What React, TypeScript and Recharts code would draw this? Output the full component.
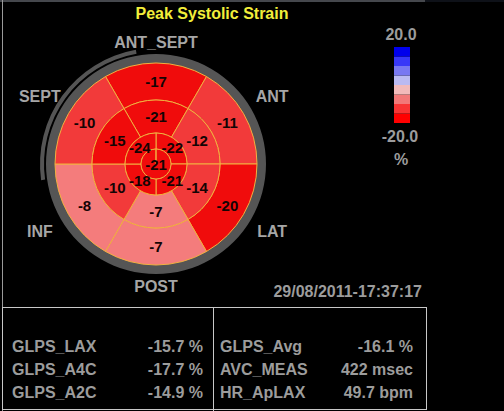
import React from 'react';
import { PieChart, Pie, Cell, BarChart, Bar, XAxis, YAxis } from 'recharts';

// 17-segment bullseye, basal/mid rings clockwise from the top
const regions = ['ANT_SEPT', 'ANT', 'LAT', 'POST', 'INF', 'SEPT'];
const basalStrain = [-17, -11, -20, -7, -8, -10];
const midStrain = [-21, -12, -14, -7, -10, -15];
const apicalRegions = ['ANT', 'LAT', 'INF', 'SEPT'];
const apicalStrain = [-22, -21, -18, -24];
const apexStrain = [-21];

// colour scale, bottom band first
const legendMin = -20.0;
const legendMax = 20.0;
const legendBandWidths = [5, 5, 5, 5, 5, 5, 5, 5];
const legendColors = ['#ff0000', '#f83434', '#f27878', '#f2baba', '#babaf2', '#7878f2', '#3838f8', '#0000ec'];

const glpsLabels = ['GLPS_LAX', 'GLPS_A4C', 'GLPS_A2C'];
const glpsValues = ['-15.7 %', '-17.7 %', '-14.9 %'];
const summaryLabels = ['GLPS_Avg', 'AVC_MEAS', 'HR_ApLAX'];
const summaryValues = ['-16.1 %', '422 msec', '49.7 bpm'];

const FONT = '"Liberation Sans", Arial, sans-serif';
const GREY = '#9c9c9c';
const CX = 156;
const CY = 164;
const RAD = Math.PI / 180;

const strainColor = (v: number) => {
  if (v <= -15) return '#f00c0c';
  if (v <= -10) return '#f23a3a';
  return '#f47c7c';
};

const toRing = (names: string[], values: number[]) =>
  values.map((strain, i) => ({ name: names[i], strain, span: 1 }));

const basalData = toRing(regions, basalStrain);
const midData = toRing(regions, midStrain);
const apicalData = toRing(apicalRegions, apicalStrain);
const apexData = toRing(['APEX'], apexStrain);
const ringData = [{ name: 'ring', span: 1 }];
const legendRow = [
  legendBandWidths.reduce((row: Record<string, any>, w, i) => ({ ...row, [`b${i}`]: w }), { name: 'scale' }),
];

const valueLabel = (props: any) => {
  const { cx, cy, midAngle, innerRadius, outerRadius, payload, index } = props;
  const r = innerRadius === 0 ? 0 : (innerRadius + outerRadius) / 2;
  const x = cx + r * Math.cos(-midAngle * RAD);
  const y = cy + r * Math.sin(-midAngle * RAD);
  const strain = payload?.strain ?? props.strain;
  return (
    <text key={`v${index}`} x={x} y={y} textAnchor="middle" dominantBaseline="central"
      fontFamily={FONT} fontWeight="bold" fontSize={15} fill="#140404">
      {strain}
    </text>
  );
};

const basalLabel = (props: any) => {
  const { cx, cy, midAngle, payload, index } = props;
  const r = 122 + 14 * Math.abs(Math.cos(midAngle * RAD));
  const x = cx + r * Math.cos(-midAngle * RAD);
  const y = cy + r * Math.sin(-midAngle * RAD);
  return (
    <g key={`b${index}`}>
      {valueLabel(props)}
      <text x={x} y={y} textAnchor="middle" dominantBaseline="central"
        fontFamily={FONT} fontWeight="bold" fontSize={16} fill="#a6a6a6">
        {payload?.name ?? props.name}
      </text>
    </g>
  );
};

const segStroke = { stroke: '#f2b040', strokeWidth: 1 };

export default function App() {
  const rowY = [352, 375, 398];
  return (
    <div style={{ position: 'absolute', left: 0, top: 0, width: 504, height: 411, background: '#000', overflow: 'hidden' }}>
      <svg width={504} height={411} style={{ position: 'absolute', left: 0, top: 0 }}>
        <line x1={0} y1={1} x2={425} y2={1} stroke="#8a8f99" />
        <line x1={425} y1={1} x2={504} y2={1} stroke="#1c2230" />
        <line x1={2.5} y1={0} x2={2.5} y2={411} stroke="#9a9a9a" />
        <rect x={2.5} y={307.5} width={424} height={102} fill="none" stroke="#c8c8c8" />
        <line x1={213.5} y1={307.5} x2={213.5} y2={411} stroke="#c8c8c8" />
        <text x={212} y={19} textAnchor="middle" fontFamily={FONT} fontWeight="bold" fontSize={16} fill="#f2ee3a">
          Peak Systolic Strain
        </text>
        <text x={422} y={297} textAnchor="end" fontFamily={FONT} fontWeight="bold" fontSize={16} fill={GREY}>
          29/08/2011-17:37:17
        </text>
        <text x={401} y={40} textAnchor="middle" fontFamily={FONT} fontWeight="bold" fontSize={16} fill={GREY}>
          {legendMax.toFixed(1)}
        </text>
        <text x={400} y={142} textAnchor="middle" fontFamily={FONT} fontWeight="bold" fontSize={16} fill={GREY}>
          {legendMin.toFixed(1)}
        </text>
        <text x={401} y={165} textAnchor="middle" fontFamily={FONT} fontWeight="bold" fontSize={16} fill={GREY}>
          %
        </text>
        {glpsLabels.map((l, i) => (
          <g key={l} fontFamily={FONT} fontWeight="bold" fontSize={16} fill={GREY}>
            <text x={12} y={rowY[i]}>{l}</text>
            <text x={203} y={rowY[i]} textAnchor="end">{glpsValues[i]}</text>
            <text x={220} y={rowY[i]}>{summaryLabels[i]}</text>
            <text x={413} y={rowY[i]} textAnchor="end">{summaryValues[i]}</text>
          </g>
        ))}
      </svg>

      <PieChart width={330} height={305} style={{ position: 'absolute', left: 0, top: 0 }}
        margin={{ top: 0, right: 0, bottom: 0, left: 0 }}>
        <Pie data={ringData} dataKey="span" cx={CX} cy={CY} innerRadius={100} outerRadius={110}
          fill="#555555" stroke="none" isAnimationActive={false} />
        <Pie data={ringData} dataKey="span" cx={CX} cy={CY} startAngle={100} endAngle={188}
          innerRadius={112} outerRadius={116} fill="#555555" stroke="none" isAnimationActive={false} />
        <Pie data={basalData} dataKey="span" cx={CX} cy={CY} startAngle={120} endAngle={-240}
          innerRadius={64} outerRadius={101} {...segStroke} label={basalLabel} labelLine={false}
          isAnimationActive={false}>
          {basalData.map((d) => <Cell key={d.name} fill={strainColor(d.strain)} />)}
        </Pie>
        <Pie data={midData} dataKey="span" cx={CX} cy={CY} startAngle={120} endAngle={-240}
          innerRadius={31} outerRadius={64} {...segStroke} label={valueLabel} labelLine={false}
          isAnimationActive={false}>
          {midData.map((d) => <Cell key={d.name} fill={strainColor(d.strain)} />)}
        </Pie>
        <Pie data={apicalData} dataKey="span" cx={CX} cy={CY} startAngle={90} endAngle={-270}
          innerRadius={15} outerRadius={31} {...segStroke} label={valueLabel} labelLine={false}
          isAnimationActive={false}>
          {apicalData.map((d) => <Cell key={d.name} fill={strainColor(d.strain)} />)}
        </Pie>
        <Pie data={apexData} dataKey="span" cx={CX} cy={CY} startAngle={90} endAngle={-270}
          innerRadius={0} outerRadius={15} {...segStroke} label={valueLabel} labelLine={false}
          isAnimationActive={false}>
          {apexData.map((d) => <Cell key={d.name} fill={strainColor(d.strain)} />)}
        </Pie>
      </PieChart>

      <BarChart width={16} height={76} data={legendRow} barCategoryGap={0}
        margin={{ top: 0, right: 0, bottom: 0, left: 0 }}
        style={{ position: 'absolute', left: 394, top: 47 }}>
        <XAxis dataKey="name" hide />
        <YAxis hide domain={[0, legendMax - legendMin]} />
        {legendColors.map((c, i) => (
          <Bar key={c} dataKey={`b${i}`} stackId="scale" fill={c} isAnimationActive={false} />
        ))}
      </BarChart>
    </div>
  );
}
